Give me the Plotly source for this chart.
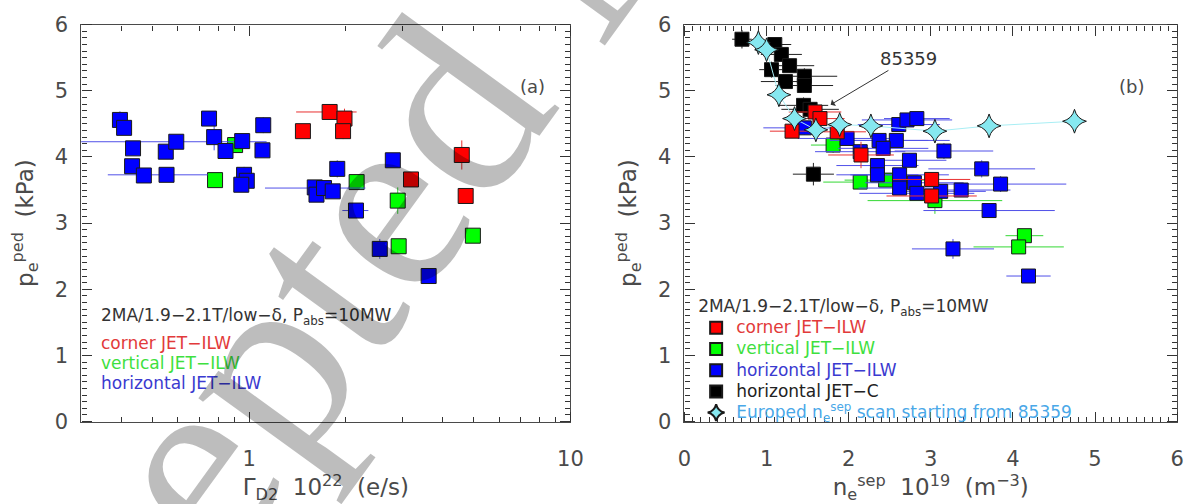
import plotly.graph_objects as go

# ---------------- panel (a): pedestal pressure vs D2 fuelling rate ----------------
red_a_x = [1.47, 1.78, 1.98, 1.96, 4.59, 3.19, 4.72]
red_a_y = [4.39, 4.68, 4.58, 4.39, 4.03, 3.66, 3.41]
red_a_ex = [0, 0.38, 0, 0, 0, 0, 0]
red_a_ey = [0.08, 0.1, 0.15, 0.12, 0.22, 0.1, 0.08]

green_a_x = [0.904, 0.783, 2.16, 2.90, 2.92, 4.97]
green_a_y = [4.18, 3.65, 3.62, 3.34, 2.65, 2.81]
green_a_ex = [0, 0, 0, 0, 0, 0]
green_a_ey = [0.12, 0.08, 0.1, 0.2, 0.1, 0.08]

blue_a_x = [0.396, 0.408, 0.435, 0.432, 0.47, 0.55, 0.593, 0.553, 0.75, 0.778,
            0.844, 0.951, 1.106, 1.10, 0.964, 0.983, 0.945, 1.88, 2.80, 1.60,
            1.62, 1.71, 1.82, 2.15, 2.55, 3.62]
blue_a_y = [4.56, 4.44, 4.13, 3.86, 3.72, 4.08, 4.23, 3.73, 4.58, 4.30,
            4.09, 4.24, 4.48, 4.10, 3.73, 3.64, 3.58, 3.82, 3.95, 3.54,
            3.43, 3.53, 3.48, 3.19, 2.61, 2.20]
blue_a_ex = [0, 0, 0, 0, 0, 0, 0.54, 0.19, 0, 0,
             0, 0, 0, 0, 0, 0, 0, 0, 0, 0,
             0, 0.59, 0, 0.2, 0, 0]
blue_a_ey = [0.13, 0.1, 0.1, 0.1, 0.08, 0.1, 0.1, 0.08, 0.08, 0.2,
             0.12, 0.1, 0.12, 0.08, 0.12, 0.1, 0.1, 0.13, 0.08, 0.1,
             0.1, 0.1, 0.08, 0.1, 0.15, 0.1]

# ---------------- panel (b): pedestal pressure vs separatrix density ----------------
red_b_x = [1.31, 1.59, 1.65, 1.86, 2.15, 3.01, 3.01]
red_b_y = [4.39, 4.68, 4.58, 4.38, 4.03, 3.66, 3.41]
red_b_ex = [0.27, 0.32, 0.3, 0.35, 0.4, 0.47, 0.55]
red_b_ey = [0.08, 0.1, 0.15, 0.12, 0.2, 0.1, 0.08]

green_b_x = [1.81, 2.14, 2.45, 3.05, 4.14, 4.07]
green_b_y = [4.18, 3.62, 3.65, 3.34, 2.81, 2.64]
green_b_ex = [0.27, 0.45, 0.5, 0.82, 0.23, 0.55]
green_b_ey = [0.12, 0.1, 0.08, 0.2, 0.08, 0.1]

blue_b_x = [1.46, 1.98, 2.14, 2.61, 2.71, 2.83, 2.37, 2.58, 2.42, 3.16,
            2.74, 2.35, 2.35, 3.62, 2.62, 2.62, 2.80, 2.83, 3.12, 3.37,
            3.85, 3.71, 3.27, 4.19]
blue_b_y = [4.44, 4.28, 4.08, 4.49, 4.56, 4.58, 4.25, 4.25, 4.13, 4.09,
            3.95, 3.87, 3.73, 3.82, 3.73, 3.53, 3.61, 3.45, 3.48, 3.50,
            3.59, 3.19, 2.61, 2.20]
blue_b_ex = [0.5, 0.6, 0.55, 0.5, 0.55, 0.4, 0.6, 0.65, 0.55, 0.6,
             0.45, 0.5, 0.5, 0.65, 0.6, 0.5, 0.6, 0.7, 0.55, 0.6,
             0.8, 0.8, 0.5, 0.27]
blue_b_ey = [0.1, 0.1, 0.1, 0.08, 0.1, 0.08, 0.1, 0.1, 0.1, 0.12,
             0.1, 0.1, 0.1, 0.13, 0.1, 0.1, 0.1, 0.1, 0.1, 0.08,
             0.12, 0.1, 0.15, 0.1]

black_b_x = [0.70, 1.10, 1.18, 1.28, 1.06, 1.23, 1.46, 1.46, 1.45, 1.53, 1.57]
black_b_y = [5.78, 5.70, 5.55, 5.38, 5.32, 5.14, 5.22, 5.08, 4.78, 4.72, 3.74]
black_b_ex = [0.12, 0.2, 0.25, 0.3, 0.15, 0.3, 0.4, 0.35, 0.3, 0.35, 0.25]
black_b_ey = [0.14, 0.1, 0.1, 0.1, 0.12, 0.1, 0.12, 0.1, 0.12, 0.1, 0.17]

europed_x = [0.90, 1.00, 1.15, 1.34, 1.60, 1.89, 2.27, 3.05, 3.71, 4.75]
europed_y = [5.73, 5.62, 4.94, 4.58, 4.41, 4.49, 4.47, 4.39, 4.47, 4.54]

# ---------------- styling ----------------
FONT = "DejaVu Sans"
AXIS_COL = "#4a4a4a"
TICK_COL = "#333333"
RED, GREEN, BLUE, BLACK = "#ff0000", "#00ff00", "#0000ff", "#000000"
RED_TXT, GREEN_TXT, BLUE_TXT, EUR_TXT = "#e23a3a", "#3ee03e", "#3a3ad0", "#4aa8e8"
STAR = "#86e8f0"

HEADER = "2MA/1.9\u22122.1T/low\u2212\u03b4, P<sub>abs</sub>=10MW"

# panel geometry (paper fractions)
A_X = [0.0631, 0.4791]
B_X = [0.5761, 0.995]
Y_DOM = [0.1468, 0.9736]
LOG_RANGE = [-0.5229, 1.0]
LIN_RANGE = [0, 6]

fig = go.Figure()


def add_points(x, y, ex, ey, color, ecolor, xa, ya, name="", legend=False, rank=1000,
               symbol="square", size=14):
    fig.add_trace(go.Scatter(
        x=x, y=y, mode="markers", xaxis=xa, yaxis=ya, name=name,
        showlegend=legend, legendrank=rank,
        marker=dict(symbol=symbol, size=size, color=color,
                    line=dict(color="#1a1a1a", width=1)),
        error_x=dict(type="data", array=ex, visible=True, color=ecolor,
                     thickness=1, width=0),
        error_y=dict(type="data", array=ey, visible=True, color=ecolor,
                     thickness=1, width=0),
        hoverinfo="x+y",
    ))


def legend_label(text, color):
    return f'<span style="color:{color};font-size:17px">{text}</span>'


# panel (a)
add_points(green_a_x, green_a_y, green_a_ex, green_a_ey, GREEN, "#34d834", "x", "y", size=15)
add_points(blue_a_x, blue_a_y, blue_a_ex, blue_a_ey, BLUE, "#5050e8", "x", "y", size=15)
add_points(red_a_x, red_a_y, red_a_ex, red_a_ey, RED, "#e83030", "x", "y", size=15)

# panel (b)
add_points(green_b_x, green_b_y, green_b_ex, green_b_ey, GREEN, "#34d834", "x2", "y2",
           name=legend_label("vertical JET\u2212ILW", GREEN_TXT), legend=True, rank=2)
add_points(blue_b_x, blue_b_y, blue_b_ex, blue_b_ey, BLUE, "#5050e8", "x2", "y2",
           name=legend_label("horizontal JET\u2212ILW", BLUE_TXT), legend=True, rank=3)
add_points(black_b_x, black_b_y, black_b_ex, black_b_ey, BLACK, "#222222", "x2", "y2",
           name=legend_label("horizontal JET\u2212C", "#222222"), legend=True, rank=4)
add_points(red_b_x, red_b_y, red_b_ex, red_b_ey, RED, "#e83030", "x2", "y2",
           name=legend_label("corner JET\u2212ILW", RED_TXT), legend=True, rank=1)

# Europed separatrix density scan
fig.add_trace(go.Scatter(
    x=europed_x, y=europed_y, mode="lines", xaxis="x2", yaxis="y2",
    line=dict(color="#a8eef4", width=1), showlegend=False, hoverinfo="skip"))
fig.add_trace(go.Scatter(
    x=europed_x, y=europed_y, mode="markers", xaxis="x2", yaxis="y2",
    name=legend_label("Europed n<sub>e</sub><sup>sep</sup> scan starting from 85359", EUR_TXT),
    showlegend=True, legendrank=5,
    marker=dict(symbol="star-diamond", size=17, color=STAR,
                line=dict(color="#1a1a1a", width=1))))

# empty traces that register the tick-only overlay axes
for k in (3, 4, 5, 6):
    fig.add_trace(go.Scatter(x=[], y=[], xaxis=f"x{k}", yaxis=f"y{k}",
                             showlegend=False, hoverinfo="skip"))

# ---------------- axes ----------------
tick_font = dict(family=FONT, size=21, color=AXIS_COL)
title_font = dict(family=FONT, size=23, color=AXIS_COL)

# labelled axes: frame line on all four sides, no ticks of their own
frame = dict(showline=True, linecolor=AXIS_COL, linewidth=1, mirror=True, ticks="",
             showgrid=False, zeroline=False, tickfont=tick_font)

log_minor = [0.4, 0.5, 0.6, 0.7, 0.8, 0.9, 2, 3, 4, 5, 6, 7, 8, 9]


def tick_axis(overlay, position, side, log=False):
    """Unlabelled overlay axis whose outward ticks point into the frame."""
    ax = dict(overlaying=overlay, anchor="free", position=position, side=side,
              showticklabels=False, showline=False, showgrid=False, zeroline=False,
              ticks="outside", ticklen=10, tickwidth=1, tickcolor=TICK_COL,
              fixedrange=True)
    if log:
        ax.update(type="log", range=LOG_RANGE, tickvals=[1, 10],
                  minor=dict(tickvals=log_minor, ticks="outside", ticklen=5,
                             tickwidth=1, tickcolor=TICK_COL, showgrid=False))
    else:
        ax.update(range=LIN_RANGE, dtick=1,
                  minor=dict(dtick=0.1, ticks="outside", ticklen=5, tickwidth=1,
                             tickcolor=TICK_COL, showgrid=False))
    return ax


fig.update_layout(
    xaxis=dict(domain=A_X, type="log", range=LOG_RANGE,
               tickvals=[1, 10], ticktext=["1", "10"], ticklabelstandoff=18,
               title=dict(text="\u0393<sub>D2</sub>  10<sup>22</sup>  (e/s)",
                          font=title_font, standoff=10),
               anchor="y", **frame),
    yaxis=dict(domain=Y_DOM, range=LIN_RANGE, dtick=1, ticklabelstandoff=8,
               title=dict(text="p<sub>e</sub><sup>ped</sup>  (kPa)",
                          font=title_font, standoff=14),
               anchor="x", **frame),
    xaxis2=dict(domain=B_X, range=LIN_RANGE, dtick=1, ticklabelstandoff=18,
                title=dict(text="n<sub>e</sub><sup>sep</sup>  10<sup>19</sup>  (m<sup>\u22123</sup>)",
                           font=title_font, standoff=10),
                anchor="y2", **frame),
    yaxis2=dict(domain=Y_DOM, range=LIN_RANGE, dtick=1, ticklabelstandoff=8,
                title=dict(text="p<sub>e</sub><sup>ped</sup>  (kPa)",
                           font=title_font, standoff=14),
                anchor="x2", **frame),
    # inward ticks for panel (a)
    xaxis3=tick_axis("x", Y_DOM[0], "top", log=True),
    xaxis4=tick_axis("x", Y_DOM[1], "bottom", log=True),
    yaxis3=tick_axis("y", A_X[0], "right"),
    yaxis4=tick_axis("y", A_X[1], "left"),
    # inward ticks for panel (b)
    xaxis5=tick_axis("x2", Y_DOM[0], "top"),
    xaxis6=tick_axis("x2", Y_DOM[1], "bottom"),
    yaxis5=tick_axis("y2", B_X[0], "right"),
    yaxis6=tick_axis("y2", B_X[1], "left"),
)

# ---------------- annotations ----------------
ann = []
ann.append(dict(x=0.078, y=1 - 320 / 504, xref="paper", yref="paper", text=HEADER,
                showarrow=False, xanchor="left", yanchor="middle",
                font=dict(family=FONT, size=17, color="#333333")))
for row, (label, col) in enumerate([("corner JET\u2212ILW", RED_TXT),
                                     ("vertical JET\u2212ILW", GREEN_TXT),
                                     ("horizontal JET\u2212ILW", BLUE_TXT)]):
    ann.append(dict(x=0.078, y=1 - (348 + 21 * row) / 504, xref="paper", yref="paper",
                    text=label, showarrow=False, xanchor="left", yanchor="middle",
                    font=dict(family=FONT, size=17, color=col)))

ann.append(dict(x=0.4465, y=1 - 78 / 504, xref="paper", yref="paper", text="(a)",
                showarrow=False, xanchor="center", yanchor="middle",
                font=dict(family=FONT, size=18, color=AXIS_COL)))
ann.append(dict(x=0.9565, y=1 - 78 / 504, xref="paper", yref="paper", text="(b)",
                showarrow=False, xanchor="center", yanchor="middle",
                font=dict(family=FONT, size=18, color=AXIS_COL)))

ann.append(dict(x=1.78, y=4.79, xref="x2", yref="y2", ax=2.73, ay=5.49,
                axref="x2", ayref="y2", text="85359", showarrow=True,
                arrowhead=1, arrowsize=1.3, arrowwidth=1, arrowcolor="#333333",
                font=dict(family=FONT, size=18, color="#333333")))

# manuscript stamp
ann.append(dict(x=0.4787, y=1.1466, xref="paper", yref="paper", text="Accepted Manuscript",
                showarrow=False, textangle=-54, xanchor="center", yanchor="middle",
                font=dict(family="Liberation Serif", size=265, color="rgba(0,0,0,0.26)")))

fig.update_layout(
    annotations=ann,
    width=1196, height=504, autosize=False,
    margin=dict(l=0, r=0, t=0, b=0),
    paper_bgcolor="white", plot_bgcolor="white",
    font=dict(family=FONT, color="#333333"),
    legend=dict(x=0.586, y=1 - 292 / 504, xanchor="left", yanchor="top",
                bgcolor="rgba(0,0,0,0)", itemsizing="constant", tracegroupgap=0,
                font=dict(family=FONT, size=14),
                title=dict(text=HEADER, font=dict(family=FONT, size=17, color="#333333"))),
)

fig.write_html("out.html")
